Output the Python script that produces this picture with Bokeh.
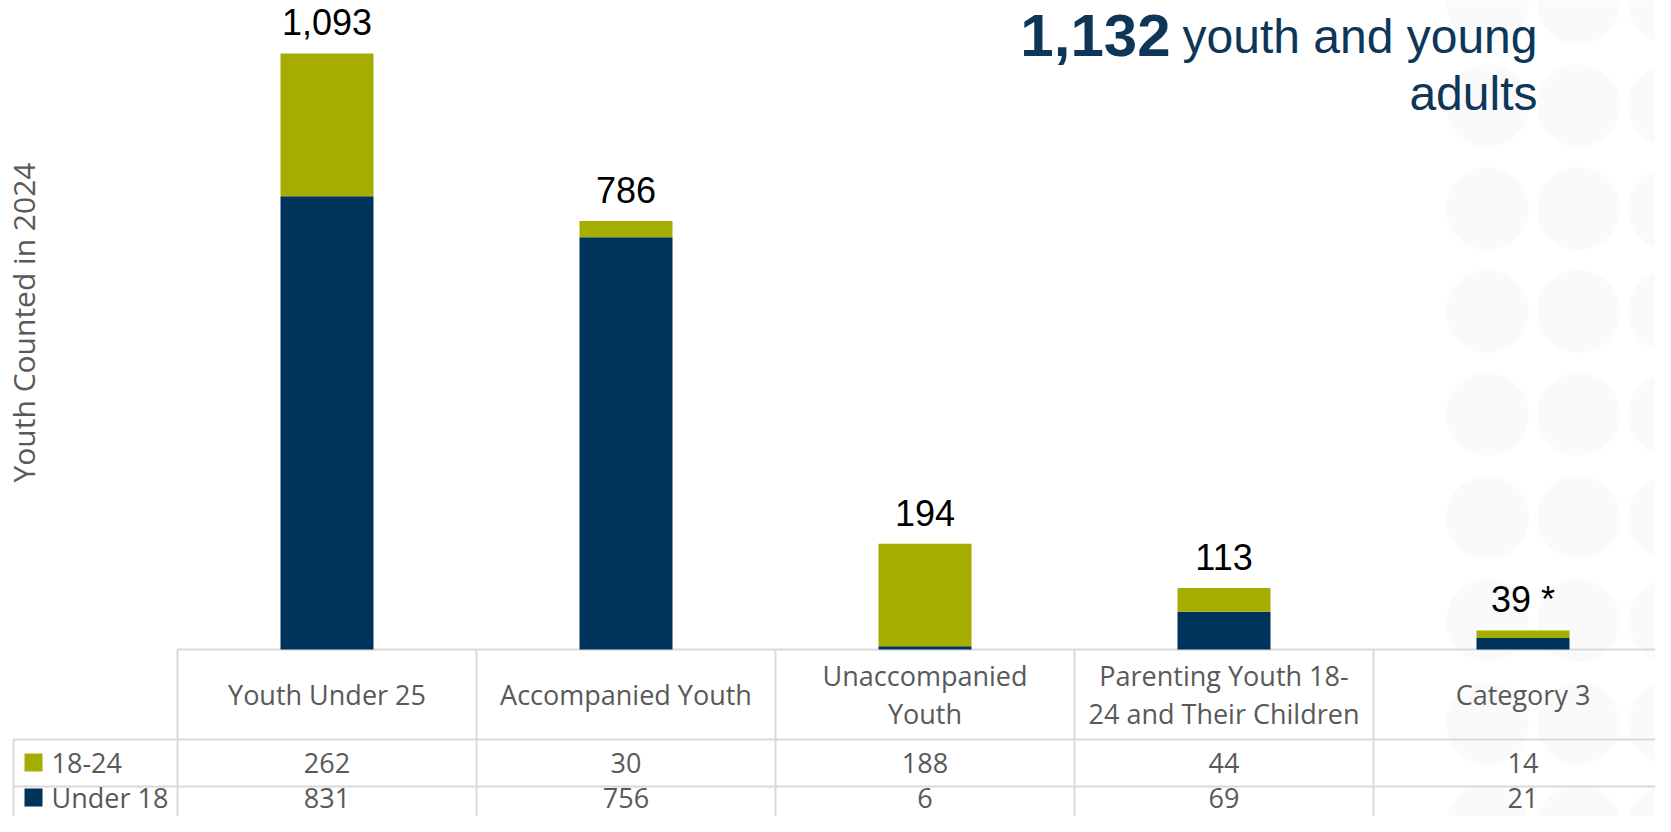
import numpy as np
from bokeh.plotting import figure
from bokeh.models import Range1d, ColumnDataSource
from bokeh.core.properties import value
from bokeh.embed import file_html
from bokeh.resources import INLINE

# ---------------- data ----------------
categories = ["Youth Under 25", "Accompanied Youth", "Unaccompanied Youth",
              "Parenting Youth 18-24 and Their Children", "Category 3"]
category_labels = ["Youth Under 25", "Accompanied Youth", "Unaccompanied\nYouth",
                   "Parenting Youth 18-\n24 and Their Children", "Category 3"]
series_names = ["18-24", "Under 18"]
age_18_24 = [262, 30, 188, 44, 14]
under_18 = [831, 756, 6, 69, 21]
total_labels = ["1,093", "786", "194", "113", "39 *"]
headline_number = "1,132"
headline_line1 = "youth and young"
headline_line2 = "adults"
y_title = "Youth Counted in 2024"

# ---------------- style / layout ----------------
NAVY = "#003359"
OLIVE = "#A4AD00"
TITLE_NAVY = "#0D3659"
GREY_TXT = "#595959"
GRID = "#D9D9D9"
CIRCLE = "#FAFAFA"

W, H = 1655, 816          # figure size
COL_LEFT = 177            # x of the first table column (px)
COL_W = 299               # column width in px
BASE = 649                # y of the zero line (px from top)
PX_PER = 0.5453           # px per counted youth
BAR_W = 93                # bar width px

n = len(categories)
xs = np.arange(n) + 0.5

x_range = Range1d(-COL_LEFT / COL_W, (W - COL_LEFT) / COL_W)
y_range = Range1d(-(H - BASE) / PX_PER, BASE / PX_PER)

p = figure(width=W, height=H, x_range=x_range, y_range=y_range,
           output_backend="svg", toolbar_location=None, min_border=0,
           x_axis_location=None, y_axis_location=None,
           outline_line_color=None, background_fill_color="white")
p.xgrid.visible = False
p.ygrid.visible = False
p.extra_x_ranges = {"px": Range1d(0, W)}
p.extra_y_ranges = {"px": Range1d(H, 0)}

# background decorative circles
gx, gy = np.meshgrid(1487 + 91 * np.arange(3), 2 + 103 * np.arange(9))
p.circle(x=gx.ravel(), y=gy.ravel(), radius=41.5, fill_color=CIRCLE,
         line_color=None, x_range_name="px", y_range_name="px")

# table grid lines
right = W + 20
row1, row2, bottom = 739, 786, 840
hx0 = [COL_LEFT, 13, 13]
hy = [BASE, row1, row2]
p.segment(x0=hx0, y0=hy, x1=[right] * 3, y1=hy, line_color=GRID, line_width=2,
          x_range_name="px", y_range_name="px")
vx = [13] + [COL_LEFT + k * COL_W for k in range(n)]
vy0 = [row1] + [BASE] * n
p.segment(x0=vx, y0=vy0, x1=vx, y1=[bottom] * len(vx), line_color=GRID,
          line_width=2, x_range_name="px", y_range_name="px")

# stacked bars
src = ColumnDataSource(dict(x=xs, under=under_18, adult=age_18_24))
p.vbar_stack(["under", "adult"], x="x", width=BAR_W / COL_W, color=[NAVY, OLIVE],
             line_color=None, source=src)

# total labels above bars
tops = np.array(under_18) + np.array(age_18_24)
p.text(x=xs, y=tops, text=total_labels, y_offset=-31, text_align="center",
       text_baseline="middle", text_font=value("Liberation Sans"),
       text_font_size="36px", text_color="black")

# table header (category labels)
p.text(x=xs, y=[694] * n, text=category_labels, y_range_name="px",
       text_align="center", text_baseline="middle", text_line_height=1.05,
       text_font=value("Open Sans"), text_font_size="27px", text_color=GREY_TXT)

# table values
p.text(x=xs, y=[762] * n, text=[str(v) for v in age_18_24], y_range_name="px",
       text_align="center", text_baseline="middle",
       text_font=value("Open Sans"), text_font_size="27px", text_color=GREY_TXT)
p.text(x=xs, y=[797] * n, text=[str(v) for v in under_18], y_range_name="px",
       text_align="center", text_baseline="middle",
       text_font=value("Open Sans"), text_font_size="27px", text_color=GREY_TXT)

# legend keys in table
p.scatter(x=[33, 33], y=[762, 797], marker="square", size=18,
          color=[OLIVE, NAVY], line_color=None,
          x_range_name="px", y_range_name="px")
p.text(x=[51, 51], y=[762, 797], text=series_names,
       x_range_name="px", y_range_name="px",
       text_align="left", text_baseline="middle",
       text_font=value("Open Sans"), text_font_size="27px", text_color=GREY_TXT)

# y-axis title
p.text(x=[23], y=[322], text=[y_title], angle=np.pi / 2,
       x_range_name="px", y_range_name="px",
       text_align="center", text_baseline="middle",
       text_font=value("Open Sans"), text_font_size="30px", text_color=GREY_TXT)

# headline
p.text(x=[1170], y=[35], text=[headline_number], x_range_name="px", y_range_name="px",
       text_align="right", text_baseline="middle",
       text_font=value("Liberation Sans"), text_font_style="bold",
       text_font_size="60px", text_color=TITLE_NAVY)
p.text(x=[1537, 1537], y=[36, 93], text=[headline_line1, headline_line2],
       x_range_name="px", y_range_name="px",
       text_align="right", text_baseline="middle",
       text_font=value("Liberation Sans"), text_font_size="48px",
       text_color=TITLE_NAVY)

open("out.html", "w").write(file_html(p, INLINE))
